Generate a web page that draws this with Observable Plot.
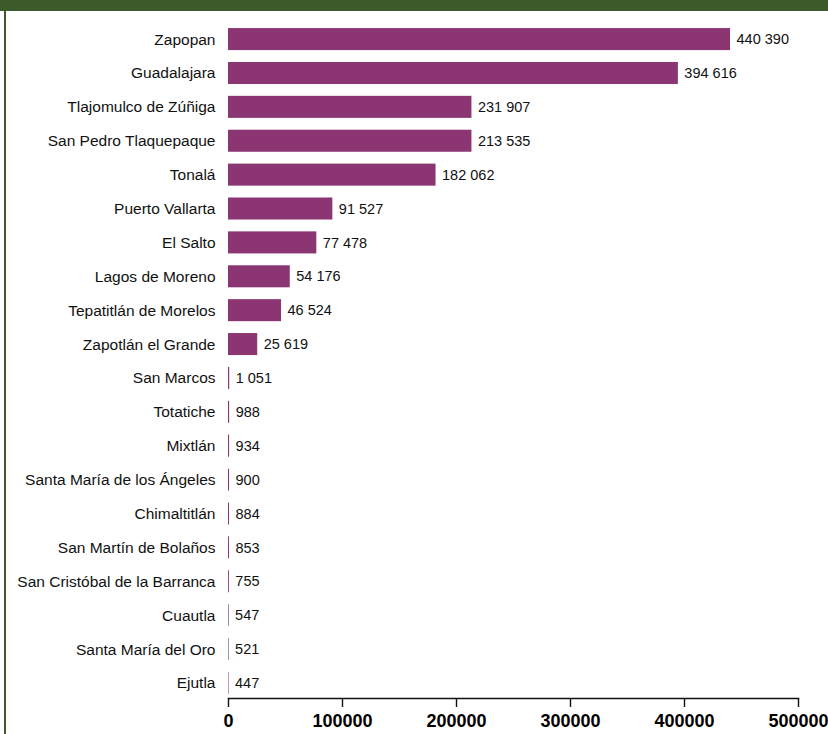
<!DOCTYPE html>
<html>
<head>
<meta charset="utf-8">
<script src="https://cdn.jsdelivr.net/npm/d3@7"></script>
<script src="https://cdn.jsdelivr.net/npm/@observablehq/plot@0.6"></script>
<style>
  html, body { margin: 0; padding: 0; background: #fff; }
  #wrap { position: relative; width: 828px; height: 734px; overflow: hidden; }
  #header { position: absolute; left: 0; top: 0; width: 828px; height: 11px; background: #3d5a2a; }
  #border { position: absolute; left: 4px; top: 11px; width: 2px; height: 723px; background: #3d5a2a; }
  #chart { position: absolute; left: 0; top: 0; }
</style>
</head>
<body>
<div id="wrap">
  <div id="chart"></div>
  <div id="header"></div>
  <div id="border"></div>
</div>
<script>
const municipios = [
  "Zapopan", "Guadalajara", "Tlajomulco de Zúñiga", "San Pedro Tlaquepaque", "Tonalá",
  "Puerto Vallarta", "El Salto", "Lagos de Moreno", "Tepatitlán de Morelos", "Zapotlán el Grande",
  "San Marcos", "Totatiche", "Mixtlán", "Santa María de los Ángeles", "Chimaltitlán",
  "San Martín de Bolaños", "San Cristóbal de la Barranca", "Cuautla", "Santa María del Oro", "Ejutla"
];
// bar lengths as drawn in the picture
const valores = [
  440390, 394616, 213535, 213535, 182062,
  91527, 77478, 54176, 46524, 25619,
  1051, 988, 934, 900, 884,
  853, 755, 547, 521, 447
];
// printed value labels
const etiquetas = [
  "440 390", "394 616", "231 907", "213 535", "182 062",
  "91 527", "77 478", "54 176", "46 524", "25 619",
  "1 051", "988", "934", "900", "884",
  "853", "755", "547", "521", "447"
];
const xTicks = [0, 100000, 200000, 300000, 400000, 500000];

const data = municipios.map((m, i) => ({municipio: m, valor: valores[i], etiqueta: etiquetas[i]}));
const purple = "#8b3572";
const font = "'Liberation Sans', Arial, Helvetica, sans-serif";

const chart = Plot.plot({
  width: 828,
  height: 734,
  marginLeft: 228,
  marginRight: 30,
  marginTop: 24,
  marginBottom: 36,
  style: {fontFamily: font, fontSize: "15.5px", color: "#111", background: "transparent"},
  x: {domain: [0, 500000], axis: null},
  y: {domain: municipios, paddingInner: 0.35, paddingOuter: 0.12, round: false, axis: null},
  marks: [
    Plot.barX(data, {x: "valor", y: "municipio", fill: purple}),
    Plot.ruleX(data, {x: 0, y: "municipio", stroke: purple, strokeWidth: 1.6, dx: 0.8}),
    Plot.text(data, {x: "valor", y: "municipio", text: "etiqueta", textAnchor: "start", dx: 6, fill: "#111", fontSize: 14.5}),
    Plot.axisY({tickSize: 0, tickPadding: 13, fontSize: 15.5, fill: "#111", label: null}),
    Plot.frame({anchor: "bottom", stroke: "#111", strokeWidth: 1.4}),
    Plot.axisX(xTicks, {anchor: "bottom", tickSize: 9, tickPadding: 7, strokeWidth: 1.4, stroke: "#111", tickFormat: d => String(d), fontSize: 18, fontWeight: "bold", fill: "#000", label: null})
  ]
});
document.getElementById("chart").appendChild(chart);
</script>
</body>
</html>
